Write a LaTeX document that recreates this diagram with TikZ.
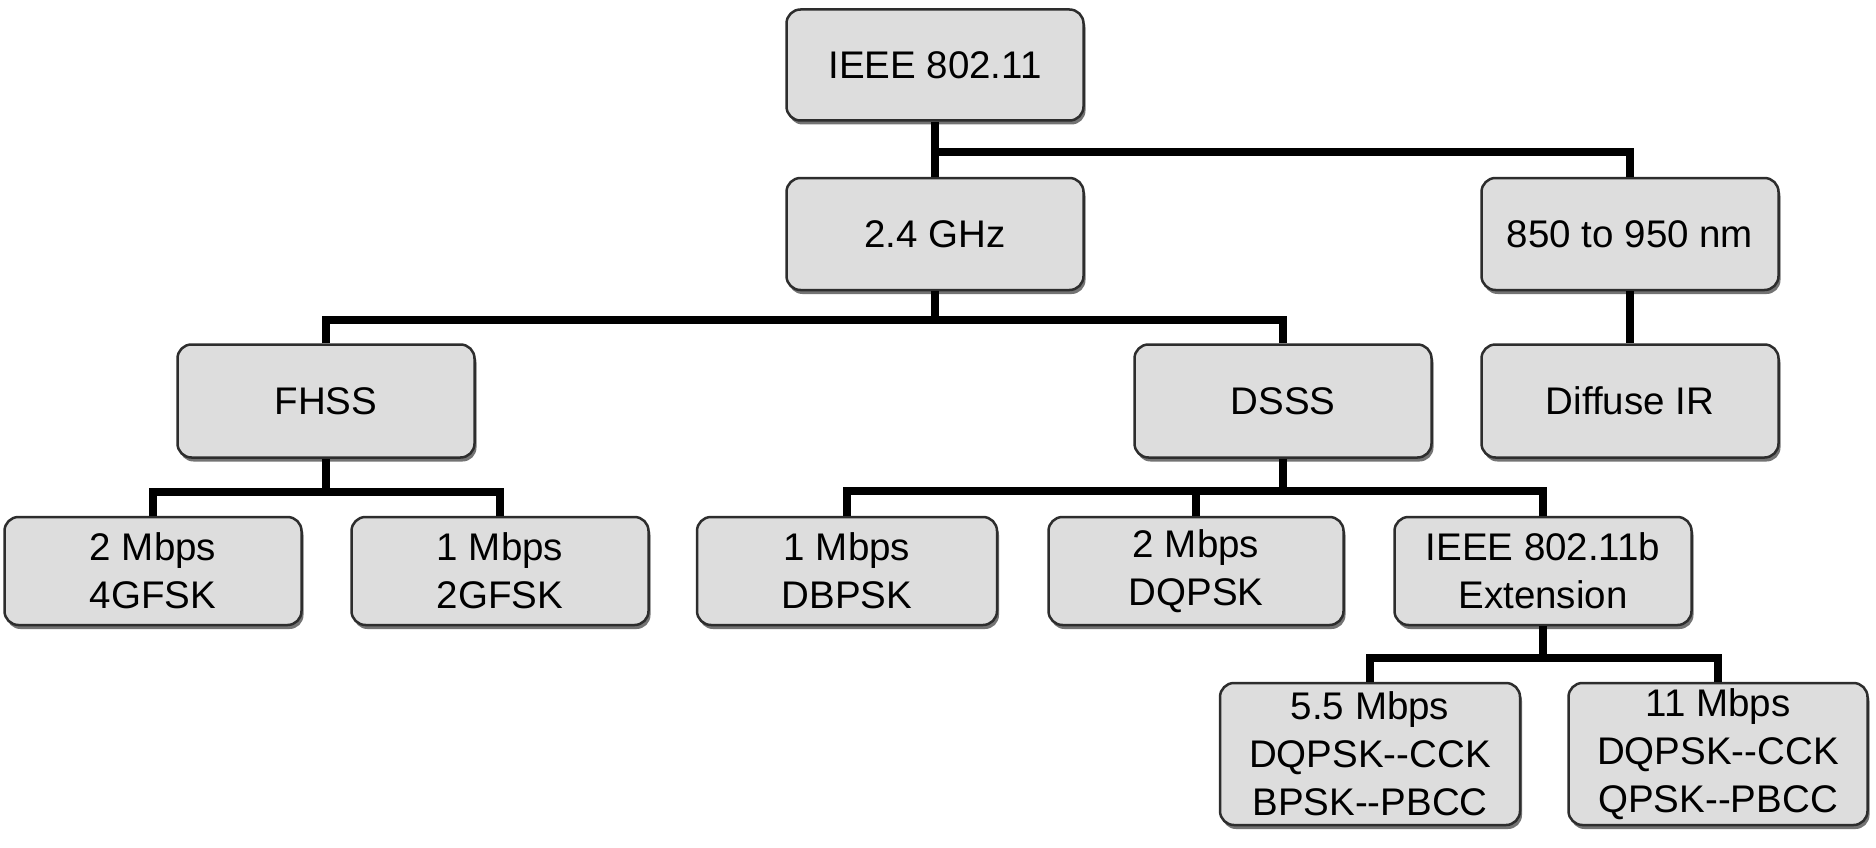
\documentclass[tikz,border=0pt]{standalone}
\usepackage{fontspec}
\setmainfont{Liberation Sans}
\usetikzlibrary{shadows}
\definecolor{boxfill}{RGB}{221,221,221}
\definecolor{boxline}{RGB}{45,45,45}
\newcommand{\dd}{\mbox{-}\mbox{-}}
\tikzset{
  box/.style={draw=boxline, line width=2.5pt, fill=boxfill, rounded corners=14pt,
    minimum width=297pt, minimum height=111pt, inner sep=0pt, align=center,
    font=\fontsize{38.5}{48}\selectfont,
    drop shadow={shadow xshift=2pt, shadow yshift=-4pt, fill=black!55, opacity=1}},
  tallbox/.style={box, minimum height=142pt},
  conn/.style={line width=8.5pt, black}
}
\begin{document}
\begin{tikzpicture}[x=1pt,y=-1pt]
\useasboundingbox (0,0) rectangle (1876,848);
% level 1-2
\node[box] (ieee) at (935,65) {IEEE 802.11};
\node[box, minimum height=112pt] (ghz) at (935,234) {2.4 GHz};
\node[box, minimum height=112pt] (nm) at (1630,234) {850 to 950 nm};
% level 3
\node[box, minimum height=113pt] (fhss) at (326,401) {FHSS};
\node[box, minimum height=113pt] (dsss) at (1283,401) {DSSS};
\node[box, minimum height=113pt] (dir) at (1630,401) {Diffuse IR};
% level 4
\node[box, minimum height=108pt] (m2) at (153,571) {2 Mbps\\4GFSK};
\node[box, minimum height=108pt] (m1) at (500,571) {1 Mbps\\2GFSK};
\node[box, minimum height=108pt, minimum width=300pt] (dbpsk) at (847,571) {1 Mbps\\DBPSK};
\node[box, minimum height=108pt, minimum width=295pt] (dqpsk) at (1196,571) {2 Mbps\\DQPSK};
\node[box, minimum height=108pt] (ext) at (1543,571) {IEEE 802.11b\\Extension};
% level 5
\node[tallbox, minimum width=300pt] (c55) at (1370,754) {5.5 Mbps\\DQPSK\dd CCK\\BPSK\dd PBCC};
\node[tallbox, minimum width=299pt] (c11) at (1718,754) {11 Mbps\\DQPSK\dd CCK\\QPSK\dd PBCC};
% bus levels
\coordinate (b1) at (0,152);
\coordinate (b2) at (0,320);
\coordinate (b3) at (0,492);
\coordinate (b4) at (0,491);
\coordinate (b5) at (0,658);
% connectors
\draw[conn] (ieee.south) -- (ghz.north);
\draw[conn] (ieee.south |- b1) -| (nm.north);
\draw[conn] (nm.south) -- (dir.north);
\draw[conn] (ghz.south) -- (ghz.south |- b2);
\draw[conn] (fhss.north) |- (dsss.north |- b2) -- (dsss.north);
\draw[conn] (fhss.south) -- (fhss.south |- b3);
\draw[conn] (m2.north) |- (m1.north |- b3) -- (m1.north);
\draw[conn] (dbpsk.north) |- (ext.north |- b4) -- (ext.north);
\draw[conn] (dsss.south) -- (dsss.south |- b4);
\draw[conn] (dqpsk.north) -- (dqpsk.north |- b4);
\draw[conn] (ext.south) -- (ext.south |- b5);
\draw[conn] (c55.north) |- (c11.north |- b5) -- (c11.north);
\end{tikzpicture}
\end{document}
